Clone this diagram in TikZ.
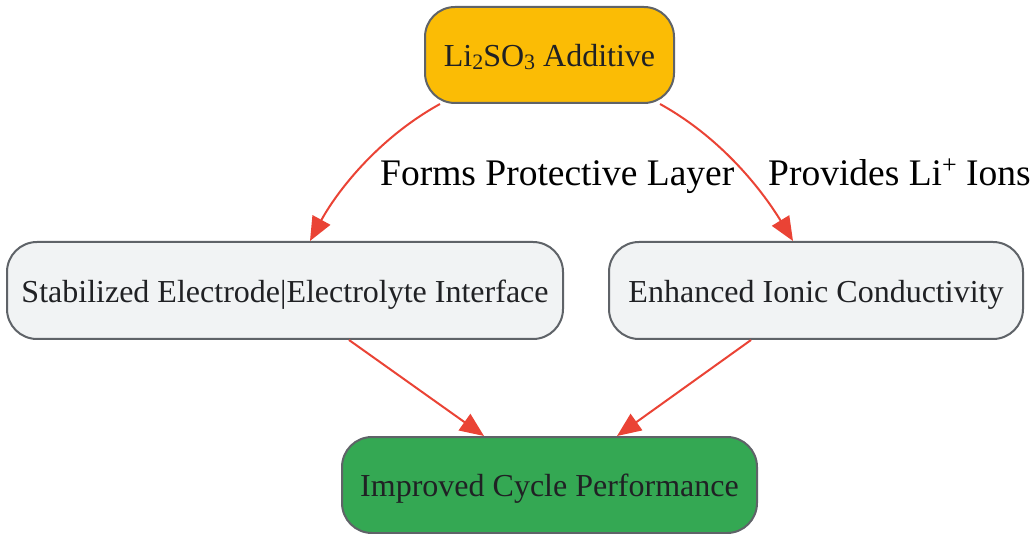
\documentclass[tikz,border=0pt]{standalone}
\usepackage{fontspec}
\setmainfont{Liberation Serif}
\usetikzlibrary{arrows.meta,calc}
\definecolor{edgered}{HTML}{EA4335}
\definecolor{bordergray}{HTML}{5F6368}
\definecolor{topfill}{HTML}{FBBC05}
\definecolor{midfill}{HTML}{F1F3F4}
\definecolor{botfill}{HTML}{34A853}
\definecolor{txt}{HTML}{202124}
\newcommand{\mysub}[1]{\raisebox{-0.15ex}{\fontsize{22}{22}\selectfont #1}}
\newcommand{\mysup}[1]{\raisebox{0.75ex}{\fontsize{26}{26}\selectfont #1}}
\newcommand{\lowertext}[2]{\raisebox{-#1}[\height][\depth]{#2}}
\tikzset{
  box/.style={draw=bordergray, line width=2pt, rounded corners=30pt, inner sep=0pt,
    text=txt, font=\fontsize{32}{36}\selectfont},
  conn/.style={draw=edgered, line width=2pt, -{Triangle[length=24pt,width=20pt]}},
  lbl/.style={font=\fontsize{37.5}{42}\selectfont, text=black, anchor=base west, inner sep=0pt}
}
\begin{document}
\begin{tikzpicture}[x=1pt,y=-1pt]
\useasboundingbox (0,0) rectangle (1036,534);
\node[box, fill=topfill, minimum width=249pt, minimum height=96pt] (top) at (549.5,55) {\lowertext{2pt}{Li\mysub{2}SO\mysub{3} Additive}};
\node[box, fill=midfill, minimum width=556pt, minimum height=97pt] (left) at (285,290.5) {\lowertext{4pt}{Stabilized Electrode|Electrolyte Interface}};
\node[box, fill=midfill, minimum width=414pt, minimum height=97pt] (right) at (816,290.5) {\lowertext{4pt}{Enhanced Ionic Conductivity}};
\node[box, fill=botfill, minimum width=415pt, minimum height=96pt] (bot) at (549.5,485) {\lowertext{4pt}{Improved Cycle Performance}};
\draw[conn] ($(top.south)+(-109.5,0)$) .. controls (375,140) and (335,195) .. ($(left.north)+(25,0)$);
\draw[conn] ($(top.south)+(110.5,0)$) .. controls (725,140) and (765,195) .. ($(right.north)+(-23,0)$);
\draw[conn] ($(left.south)+(64,0)$) -- ($(bot.north)+(-65.5,0)$);
\draw[conn] ($(right.south)+(-65,0)$) -- ($(bot.north)+(67.5,0)$);
\node[lbl] (l1) at (380,186) {Forms Protective Layer};
\node[lbl] (l2) at (768,186) {Provides Li\mysup{+} Ions};
\end{tikzpicture}
\end{document}
